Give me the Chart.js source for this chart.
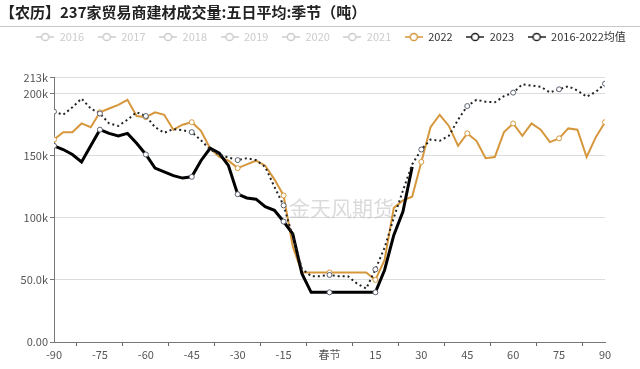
<!DOCTYPE html>
<html><head><meta charset="utf-8">
<script src="https://cdn.jsdelivr.net/npm/chart.js@4/dist/chart.umd.min.js"></script>
<style>html,body{margin:0;padding:0;background:#fff;}#wrap{width:640px;height:369px;}</style>
</head><body><div id="wrap"><canvas id="c" width="640" height="369"></canvas></div>
<script>
// Lunar-calendar day offset from Spring Festival (春节 = 0)
const days = [-90,-87,-84,-81,-78,-75,-72,-69,-66,-63,-60,-57,-54,-51,-48,-45,-42,-39,-36,-33,-30,-27,-24,-21,-18,-15,-12,-9,-6,-3,0,3,6,9,12,15,18,21,24,27,30,33,36,39,42,45,48,51,54,57,60,63,66,69,72,75,78,81,84,87,90];
// values in thousand tonnes (k)
const s2022 = [163,169,169,176,173,185,188,191,195,182,181,185,183,171,175,177,170,156,149,146,140,143,146,142,131,118,77,56,56,56,56,56,56,56,56,50,66,108,114,117,145,173,183,174,158,168,162,148,149,169,176,166,176,171,161,164,172,171,149,165,177];
const s2023 = [158,155,151,145,158,171,168,166,168,160,151,140,137,134,132,133,146,156,152,142,119,116,115,109,106,97,87,55,40,40,40,40,40,40,40,40,58,86,105,141,null,null,null,null,null,null,null,null,null,null,null,null,null,null,null,null,null,null,null,null,null];
const sAvg = [185.5,183,189,196,188,184,176,174,179,185,182,173,168.5,171.5,170.5,169,162.5,155,151,148.5,146.5,148,146.5,141,125,110,85,59,53,53,54,53,53,47,43,58.5,76,100,122,143,155,163,162,166,179,190,195,193.5,193,198,200.8,207.5,206.5,205.5,201,203.5,206,202.5,197.5,201.5,208];
const hiddenYears = ['2016','2017','2018','2019','2020','2021'];
const seriesNames = ['2022','2023','2016-2022均值'];
const xTickValues = [-90,-75,-60,-45,-30,-15,0,15,30,45,60,75,90];
const xTickLabels = ['-90','-75','-60','-45','-30','-15','春节','15','30','45','60','75','90'];
const yTickValues = [0,50,100,150,200,213];
const yTickLabels = ['0.00','50.0k','100k','150k','200k','213k'];
const titleText = '【农历】237家贸易商建材成交量:五日平均:季节（吨）';
const watermark = '金天风期货';

const FONT = "'Noto Sans CJK SC','Noto Sans',sans-serif";
const ORANGE = '#D6973C';
const GRAYL = '#cccccc';

function makeSymbol(color, lw){
  const c = document.createElement('canvas');
  c.width = 18; c.height = 10;
  const g = c.getContext('2d');
  g.strokeStyle = color; g.lineWidth = lw;
  g.beginPath(); g.moveTo(0,5); g.lineTo(18,5); g.stroke();
  g.beginPath(); g.arc(9,5,3.6,0,Math.PI*2); g.fillStyle='#fff'; g.fill(); g.stroke();
  return c;
}

const markerRadius = ctx => (days[ctx.dataIndex] % 15 === 0 ? 2.5 : 0);

const datasets = [];
hiddenYears.forEach(y => datasets.push({label:y, data:[], borderColor:GRAYL, backgroundColor:GRAYL, order:10, _sym: makeSymbol(GRAYL,1.5), _font: GRAYL}));
datasets.push({label:seriesNames[0], data:s2022, borderColor:ORANGE, borderWidth:2, pointRadius:markerRadius, pointBackgroundColor:'#fff', pointBorderColor:ORANGE, pointBorderWidth:1, tension:0, order:3, _sym: makeSymbol(ORANGE,1.5), _font:'#333'});
datasets.push({label:seriesNames[1], data:s2023, borderColor:'#000', borderWidth:3, pointRadius:markerRadius, pointBackgroundColor:'#fff', pointBorderColor:'#5a6070', pointBorderWidth:1, tension:0, order:2, _sym: makeSymbol('#222',1.5), _font:'#333'});
datasets.push({label:seriesNames[2], data:sAvg, borderColor:'#222', borderWidth:2, borderDash:[2,3], pointRadius:markerRadius, pointBackgroundColor:'#fff', pointBorderColor:'#5a6070', pointBorderWidth:1, tension:0, order:1, _sym: makeSymbol('#222',1.5), _font:'#333'});

const LEGEND_EXTRA = 22;
const decor = {
  id:'decor',
  beforeLayout(chart){
    const lg = chart.legend;
    if (lg && !lg._patched){
      const orig = lg.fit.bind(lg);
      lg.fit = function(){ this.maxWidth = 700; orig(); this.height += LEGEND_EXTRA; };
      lg._patched = true;
    }
  },
  afterLayout(chart){
    const lg = chart.legend;
    if (lg){ lg.left = 22; lg.right = 640; lg.width = 618; lg.top -= 3; lg.bottom -= 3; }
  },
  beforeDatasetsDraw(chart){
    const {ctx, chartArea} = chart;
    ctx.save();
    ctx.fillStyle = 'rgba(190,190,190,0.55)';
    ctx.font = "21px " + FONT;
    ctx.textAlign = 'center'; ctx.textBaseline = 'middle';
    ctx.fillText(watermark, (chartArea.left+chartArea.right)/2 + 12, (chartArea.top+chartArea.bottom)/2 - 2);
    ctx.restore();
  },
  afterDraw(chart){
    const ctx = chart.ctx;
    ctx.save();
    ctx.strokeStyle = '#c8c8c8'; ctx.lineWidth = 1;
    ctx.beginPath(); ctx.moveTo(0, 26.5); ctx.lineTo(640, 26.5); ctx.stroke();
    ctx.restore();
  }
};

new Chart(document.getElementById('c'), {
  type:'line',
  data:{labels:days, datasets},
  options:{
    responsive:false, animation:false, devicePixelRatio:1,
    layout:{padding:{left:0,right:35,top:0,bottom:0}},
    plugins:{
      tooltip:{enabled:false},
      title:{display:true, text:titleText, align:'start', color:'#222', font:{family:FONT, size:15, weight:'bold'}, padding:{top:3,bottom:0}},
      legend:{display:true, position:'top', align:'center',
        labels:{usePointStyle:true, pointStyleWidth:18, boxHeight:10, padding:13.5, color:'#333', font:{family:FONT, size:11},
          sort:(a,b)=>a.datasetIndex-b.datasetIndex,
          generateLabels(chart){
            return chart.data.datasets.map((d,i)=>({text:d.label, fillStyle:'#fff', strokeStyle:d.borderColor, lineWidth:0, pointStyle:d._sym, fontColor:d._font, hidden:false, datasetIndex:i}));
          }
        }
      }
    },
    scales:{
      x:{type:'linear', min:-90, max:90,
        afterBuildTicks(s){ s.ticks = xTickValues.map(v=>({value:v})); },
        afterFit(s){ s.height = 27; },
        ticks:{autoSkip:false, maxRotation:0, color:'#555', font:{family:FONT,size:11}, padding:2,
          callback:(v)=>{ const i = xTickValues.indexOf(v); return i>=0 ? xTickLabels[i] : ''; }},
        grid:{offset:true, drawOnChartArea:false, drawTicks:true, tickLength:4, color:'#666'},
        border:{display:true, color:'#777', width:1}
      },
      y:{type:'linear', min:0, max:213,
        afterBuildTicks(s){ s.ticks = yTickValues.map(v=>({value:v})); },
        afterFit(s){ s.width = 54; },
        ticks:{color:'#555', font:{family:FONT,size:11}, padding:2,
          callback:(v)=>{ const i = yTickValues.indexOf(v); return i>=0 ? yTickLabels[i] : ''; }},
        grid:{color:'#dcdcdc', tickColor:'#777', drawTicks:true, tickLength:4},
        border:{display:true, color:'#777', width:1}
      }
    }
  },
  plugins:[decor]
});
</script></body></html>
